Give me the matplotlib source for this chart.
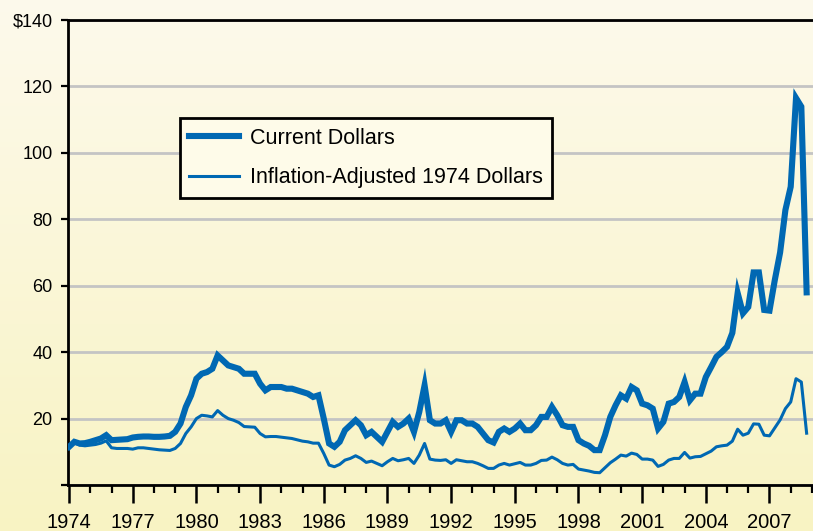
import numpy as np
import matplotlib
matplotlib.use("Agg")
from matplotlib import pyplot as plt

plt.rcParams['font.family'] = ['Liberation Sans', 'DejaVu Sans']

# quarterly oil price, 1974 Q1 .. 2008 Q4
quarters = 1974 + np.arange(140) / 4.0

current = [
    11.5, 13.0, 12.5, 12.6,   # 1974
    13.0, 13.5, 14.0, 15.0,   # 1975
    13.5, 13.6, 13.7, 13.8,   # 1976
    14.3, 14.5, 14.6, 14.6,   # 1977
    14.5, 14.5, 14.6, 14.8,   # 1978
    16.0, 18.5, 23.5, 27.0,   # 1979
    32.0, 33.5, 34.0, 35.0,   # 1980
    39.0, 37.5, 36.0, 35.5,   # 1981
    35.0, 33.5, 33.5, 33.5,   # 1982
    30.5, 28.5, 29.5, 29.5,   # 1983
    29.5, 29.0, 29.0, 28.5,   # 1984
    28.0, 27.5, 26.5, 27.0,   # 1985
    20.0, 12.5, 11.5, 13.0,   # 1986
    16.5, 18.0, 19.5, 18.0,   # 1987
    15.0, 16.0, 14.5, 13.0,   # 1988
    16.0, 19.0, 17.5, 18.5,   # 1989
    20.0, 16.0, 22.0, 30.0,   # 1990
    19.5, 18.5, 18.5, 19.5,   # 1991
    16.0, 19.5, 19.5, 18.5,   # 1992
    18.5, 17.5, 15.5, 13.5,   # 1993
    12.8, 16.0, 17.0, 16.0,   # 1994
    17.0, 18.5, 16.5, 16.5,   # 1995
    18.0, 20.5, 20.5, 23.5,   # 1996
    21.0, 18.0, 17.5, 17.5,   # 1997
    13.5, 12.5, 11.8, 10.5,   # 1998
    10.5, 15.0, 20.5, 24.0,   # 1999
    27.0, 26.0, 29.5, 28.5,   # 2000
    24.5, 24.0, 23.0, 17.0,   # 2001
    19.0, 24.5, 25.0, 26.5,   # 2002
    31.0, 25.5, 27.5, 27.5,   # 2003
    32.5, 35.5, 38.6, 40.0,   # 2004
    41.6, 45.8, 57.8, 51.7,   # 2005
    53.6, 64.0, 64.0, 52.7,   # 2006
    52.5, 61.7, 70.0, 82.8,   # 2007
    89.8, 116.5, 113.9, 58.0, # 2008
]

adjusted = [
    11.2, 12.8, 12.0, 11.8,   # 1974
    12.0, 12.2, 12.6, 13.3,   # 1975
    11.2, 11.0, 11.0, 11.0,   # 1976
    10.8, 11.2, 11.2, 11.0,   # 1977
    10.8, 10.6, 10.5, 10.4,   # 1978
    11.0, 12.5, 15.5, 17.5,   # 1979
    20.0, 21.0, 20.8, 20.5,   # 1980
    22.4, 21.0, 20.0, 19.5,   # 1981
    18.8, 17.6, 17.5, 17.4,   # 1982
    15.5, 14.5, 14.6, 14.6,   # 1983
    14.4, 14.2, 14.0, 13.6,   # 1984
    13.2, 13.0, 12.6, 12.6,   # 1985
    9.5, 6.0, 5.5, 6.2,       # 1986
    7.5, 8.0, 8.8, 8.0,       # 1987
    6.8, 7.2, 6.5, 5.8,       # 1988
    7.0, 8.0, 7.3, 7.6,       # 1989
    8.0, 6.5, 9.0, 12.5,      # 1990
    7.8, 7.5, 7.4, 7.6,       # 1991
    6.5, 7.6, 7.3, 7.0,       # 1992
    7.0, 6.5, 5.8, 5.0,       # 1993
    5.0, 6.0, 6.5, 6.0,       # 1994
    6.4, 6.8, 6.0, 6.0,       # 1995
    6.5, 7.4, 7.5, 8.4,       # 1996
    7.6, 6.5, 6.0, 6.2,       # 1997
    4.8, 4.5, 4.2, 3.8,       # 1998
    3.7, 5.2, 6.7, 7.8,       # 1999
    9.0, 8.7, 9.6, 9.2,       # 2000
    7.8, 7.8, 7.5, 5.6,       # 2001
    6.2, 7.5, 8.0, 8.0,       # 2002
    9.8, 8.1, 8.5, 8.6,       # 2003
    9.4, 10.2, 11.5, 11.8,    # 2004
    12.0, 13.2, 16.8, 15.0,   # 2005
    15.6, 18.4, 18.3, 15.0,   # 2006
    14.8, 17.2, 19.6, 23.0,   # 2007
    25.0, 32.0, 31.0, 15.6,   # 2008
]

year_ticks = list(range(1974, 2008, 3))
y_ticks = [0, 20, 40, 60, 80, 100, 120, 140]
y_labels = ['', '20', '40', '60', '80', '100', '120', '$140']

blue = '#0068b3'

fig = plt.figure(figsize=(8.13, 5.31), dpi=100)

# cream gradient background
bg = fig.add_axes([0, 0, 1, 1], zorder=-10)
grad = np.linspace(0, 1, 256).reshape(-1, 1)
top = np.array([0.992, 0.980, 0.925])
bot = np.array([0.973, 0.953, 0.765])
img = top[None, None, :] * (1 - grad[:, :, None]) + bot[None, None, :] * grad[:, :, None]
bg.imshow(img, aspect='auto', extent=[0, 1, 0, 1])
bg.axis('off')

ax = fig.add_axes([68/813, 46/531, 745/813, 465/531])
ax.patch.set_alpha(0)

ax.plot(quarters, current, color=blue, lw=4.4, solid_joinstyle='miter',
        label='Current Dollars', zorder=3)
ax.plot(quarters, adjusted, color=blue, lw=2.2,
        label='Inflation-Adjusted 1974 Dollars', zorder=3)

ax.set_xlim(1973.95, 2009.05)
ax.set_ylim(0, 140)

ax.set_yticks(y_ticks)
ax.set_yticklabels(y_labels, fontsize=13)
ax.yaxis.grid(True, color='#c4c4c4', lw=2)
ax.set_axisbelow(True)

ax.set_xticks(year_ticks)
ax.set_xticklabels([str(y) for y in year_ticks], fontsize=14.5)
ax.set_xticks(range(1974, 2010), minor=True)

ax.tick_params(axis='y', length=5, width=1.6, pad=6, color='black')
ax.tick_params(axis='x', which='major', length=13, width=1.8, pad=7)
ax.tick_params(axis='x', which='minor', length=6, width=1.6)

for s in ['left', 'bottom', 'top']:
    ax.spines[s].set_linewidth(2)
    ax.spines[s].set_color('black')
ax.spines['right'].set_visible(False)

leg = ax.legend(loc='upper left', bbox_to_anchor=(0.150, 0.789), borderaxespad=0,
                fontsize=15.5, frameon=True, fancybox=False, handlelength=2.3,
                handletextpad=0.5, labelspacing=0.85, borderpad=0.45)
leg.get_frame().set_edgecolor('black')
leg.get_frame().set_linewidth(2)
leg.get_frame().set_facecolor('#fefbe9')
leg.get_frame().set_alpha(1)

fig.savefig('out.png', dpi=100)
